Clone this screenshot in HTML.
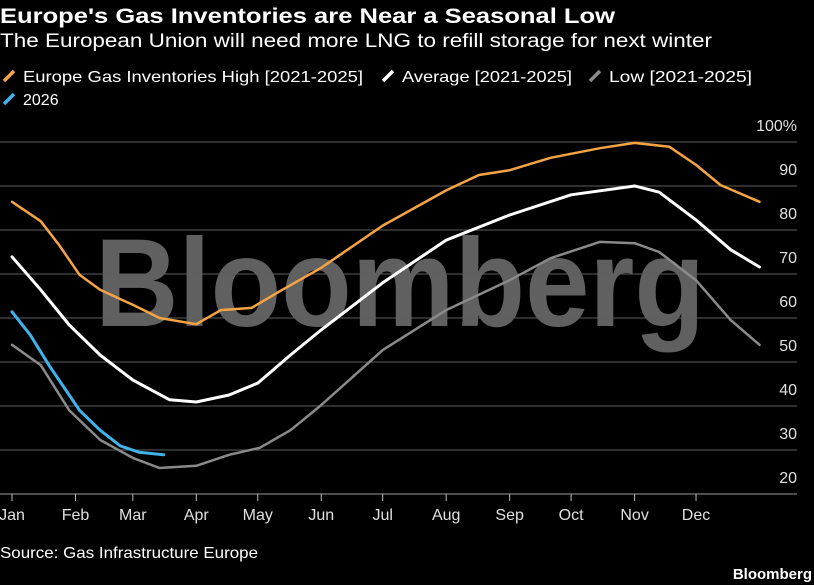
<!DOCTYPE html>
<html><head><meta charset="utf-8"><style>
html,body{margin:0;padding:0;background:#000;}
svg{display:block;font-family:"Liberation Sans","DejaVu Sans",sans-serif;}
</style></head><body>
<svg id="c" width="814" height="585" viewBox="0 0 814 585">
<rect width="814" height="585" fill="#000"/>
<text x="0" y="23" fill="#fff" font-weight="bold" font-size="21" textLength="615" lengthAdjust="spacingAndGlyphs">Europe's Gas Inventories are Near a Seasonal Low</text>
<text x="0" y="47" fill="#fff" font-size="19" textLength="712" lengthAdjust="spacingAndGlyphs">The European Union will need more LNG to refill storage for next winter</text>
<g id="legend"></g>
<text x="400" y="326" fill="#606060" font-weight="bold" font-size="125" text-anchor="middle" textLength="610" lengthAdjust="spacingAndGlyphs">Bloomberg</text>
<g id="grid"></g>
<g id="xaxis"></g>
<g id="series"></g>
<text x="0" y="558" fill="#fff" font-size="16" textLength="258" lengthAdjust="spacingAndGlyphs">Source: Gas Infrastructure Europe</text>
<text x="812" y="579" fill="#fff" font-weight="bold" font-size="15" text-anchor="end">Bloomberg</text>
</svg>
<script>
const yTicks=[100,90,80,70,60,50,40,30,20];
const months=["Jan","Feb","Mar","Apr","May","Jun","Jul","Aug","Sep","Oct","Nov","Dec"];
const monthDays=[0,31,59,90,120,151,181,212,243,273,304,334];
const highDays=[0,14,23,33,43,59,72,90,102,117,132,151,181,212,228,243,263,287,304,321,334,346,365];
const highVals=[86.4,82,76.6,69.8,66.4,63,60,58.6,61.8,62.3,66.4,71.4,81,89,92.5,93.6,96.4,98.6,99.8,98.9,94.8,90.2,86.4];
const avgDays=[0,14,28,43,59,77,90,106,120,136,151,181,212,243,273,304,316,334,351,365];
const avgVals=[73.9,66.4,58.4,51.6,45.9,41.4,40.9,42.5,45.2,51.6,57.3,68,77.7,83.4,88,90,88.6,82.3,75.5,71.6];
const lowDays=[0,14,28,43,59,72,90,106,121,136,151,181,212,243,263,287,304,316,334,351,365];
const lowVals=[53.9,49.3,39,32.3,28.2,25.9,26.4,28.9,30.5,34.5,40.2,52.7,61.8,68.6,73.6,77.3,77,75,68.6,59.5,53.9];
const d26Days=[0,9,18,33,43,53,62,74];
const d26Vals=[61.4,56.1,49.3,39,34.5,30.9,29.5,28.9];
const legendLabels=["Europe Gas Inventories High [2021-2025]","Average [2021-2025]","Low [2021-2025]","2026"];

const NS="http://www.w3.org/2000/svg";
const X=d=>12+d*2.048;
const Y=v=>142+(100-v)*4.4;
function mk(t,a,p){const e=document.createElementNS(NS,t);for(const k in a)e.setAttribute(k,a[k]);p.appendChild(e);return e;}
const grid=document.getElementById('grid');
yTicks.forEach((v,i)=>{
  const l=mk('line',{x1:0,x2:797,y1:Y(v),y2:Y(v),stroke:v===20?'#9a9a9a':'#5e5e5e','stroke-width':1},grid);
  
  
  const t=mk('text',{x:797,y:Y(v)-11,fill:'#e0e0e0','font-size':16,'text-anchor':'end'},grid);
  t.textContent=v===100?'100%':String(v);
  
  
});
const xa=document.getElementById('xaxis');
months.forEach((m,i)=>{
  const x=X(monthDays[i]);
  const tk=mk('line',{x1:x,x2:x,y1:Y(20),y2:Y(20)+7,stroke:'#bbb','stroke-width':1},xa);
  
  
  const t=mk('text',{x:x,y:520,fill:'#e0e0e0','font-size':16,'text-anchor':'middle'},xa);
  t.textContent=m;
  
  
});
const sg=document.getElementById('series');
function line(days,vals,col,w,name){
  const d=days.map((dd,i)=>(i?'L':'M')+X(dd).toFixed(1)+','+Y(vals[i]).toFixed(1)).join(' ');
  const p=mk('path',{d:d,fill:'none',stroke:col,'stroke-width':w,'stroke-linejoin':'round','stroke-linecap':'round'},sg);
  
  
}
line(lowDays,lowVals,'#8a8a8a',2.5,'low-line');
line(highDays,highVals,'#f5a445',2.5,'high-line');
line(avgDays,avgVals,'#ffffff',3,'average-line');
line(d26Days,d26Vals,'#3fb3ea',3,'line-2026');
const lg=document.getElementById('legend');
const cols=['#f5a445','#ffffff','#8a8a8a','#3fb3ea'];
const pos=[[4,82,360],[383,82,190],[590,82,163],[4,105,58]];
legendLabels.forEach((s,i)=>{
  const [x,y,w]=pos[i];
  const m=mk('line',{x1:x,y1:y-1,x2:x+10,y2:y-11,stroke:cols[i],'stroke-width':3.5},lg);
  
  
  const t=mk('text',{x:x+19,y:y,fill:'#fff','font-size':16},lg);
  t.textContent=s;
  
  
  if(i<3){t.setAttribute('textLength',w-20);t.setAttribute('lengthAdjust','spacingAndGlyphs');}
});
</script>
</body></html>
